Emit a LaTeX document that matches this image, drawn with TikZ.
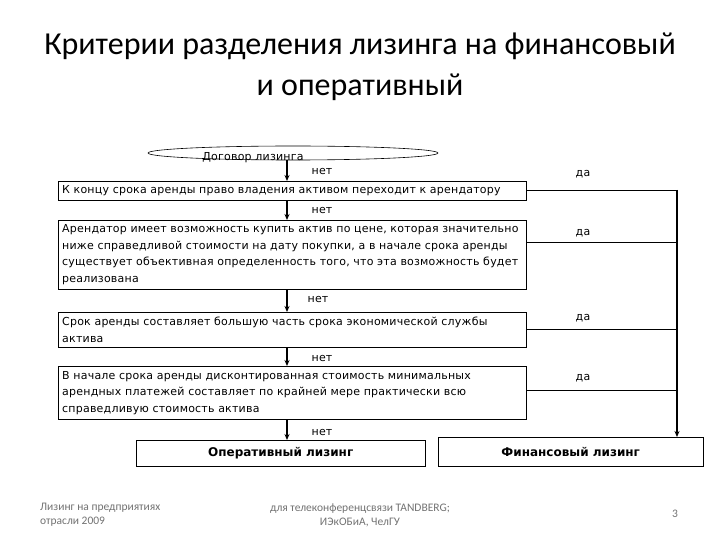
\documentclass[tikz,border=0pt]{standalone}
\usepackage{fontspec}
\setmainfont{DejaVu Sans}[LetterSpace=2]
\newfontfamily\titlefont{Carlito}
\newfontfamily\boldlbl{DejaVu Sans}
\usetikzlibrary{shapes.geometric,arrows.meta}
\begin{document}
\begin{tikzpicture}[x=1pt,y=-1pt,
  every node/.style={font=\fontsize{11}{16.5}\selectfont},
  crit/.style={draw, anchor=north west, align=left, text width=460pt, inner xsep=4pt, inner ysep=0pt, minimum width=468pt},
  result/.style={draw, anchor=north west, inner sep=0pt, font=\boldlbl\fontsize{12}{14}\selectfont\bfseries},
  lbl/.style={inner sep=0pt},
  flow/.style={-{Stealth[length=6pt,width=5pt]}, line width=1.1pt},
  link/.style={line width=0.8pt},
  foot/.style={inner sep=0pt, text=black!55, font=\titlefont\fontsize{11.5}{14}\selectfont}
]
\useasboundingbox (0,0) rectangle (720,540);
\fill[white] (0,0) rectangle (720,540);

% title
\node[inner sep=0pt, align=center, font=\titlefont\fontsize{32}{41}\selectfont] (title) at (360,67)
  {Критерии разделения лизинга на финансовый\\ и оперативный};

% start ellipse
\node[draw, ellipse, minimum width=290pt, minimum height=14pt, inner sep=0pt, line width=0.6pt] (start) at (293,153) {};
\node[lbl] (startlbl) at (253,157.5) {Договор лизинга};

% criteria boxes
\node[crit, minimum height=19pt] (b1) at (58,181) {К концу срока аренды право владения активом переходит к арендатору};
\node[crit, minimum height=69pt] (b2) at (58,220) {Арендатор имеет возможность купить актив по цене, которая значительно\\ниже справедливой стоимости на дату покупки, а в начале срока аренды\\существует объективная определенность того, что эта возможность будет\\реализована};
\node[crit, minimum height=35pt] (b3) at (58,312) {Срок аренды составляет большую часть срока экономической службы\\актива};
\node[crit, minimum height=53pt] (b4) at (58,366) {В начале срока аренды дисконтированная стоимость минимальных\\арендных платежей составляет по крайней мере практически всю\\справедливую стоимость актива};

% results
\node[result, minimum width=289pt, minimum height=26pt] (oper) at (136,440) {Оперативный лизинг};
\node[result, minimum width=265pt, minimum height=29pt] (fin) at (438,437) {Финансовый лизинг};

% "нет" flow
\coordinate (s0) at (287,160);
\draw[flow] (s0) -- (s0 |- b1.north);
\draw[flow] (b1.south -| s0) -- (b2.north -| s0);
\draw[flow] (b2.south -| s0) -- (b3.north -| s0);
\draw[flow] (b3.south -| s0) -- (b4.north -| s0);
\draw[flow] (b4.south -| s0) -- (oper.north -| s0);
\node[lbl] (n1) at (322,171) {нет};
\node[lbl] (n2) at (322,210) {нет};
\node[lbl] (n3) at (318,299) {нет};
\node[lbl] (n4) at (322,358) {нет};
\node[lbl] (n5) at (322,432) {нет};

% "да" links
\coordinate (rail) at (677,190);
\coordinate (r2) at (677,242);
\coordinate (r3) at (677,329);
\coordinate (r4) at (677,390);
\draw[link] (b1.east |- rail) -- (rail);
\draw[flow] (rail) -- (rail |- fin.north);
\draw[link] (b2.east |- r2) -- (r2);
\draw[link] (b3.east |- r3) -- (r3);
\draw[link] (b4.east |- r4) -- (r4);
\node[lbl] (y1) at (583,174) {да};
\node[lbl] (y2) at (583,233) {да};
\node[lbl] (y3) at (583,318) {да};
\node[lbl] (y4) at (583,378) {да};

% footer
\node[foot, anchor=west, align=left] (f1) at (40,515) {Лизинг на предприятиях\\отрасли 2009};
\node[foot, align=center] (f2) at (360,515) {для телеконференцсвязи TANDBERG;\\ИЭкОБиА, ЧелГУ};
\node[foot] (f3) at (675,514) {3};
\end{tikzpicture}
\end{document}
